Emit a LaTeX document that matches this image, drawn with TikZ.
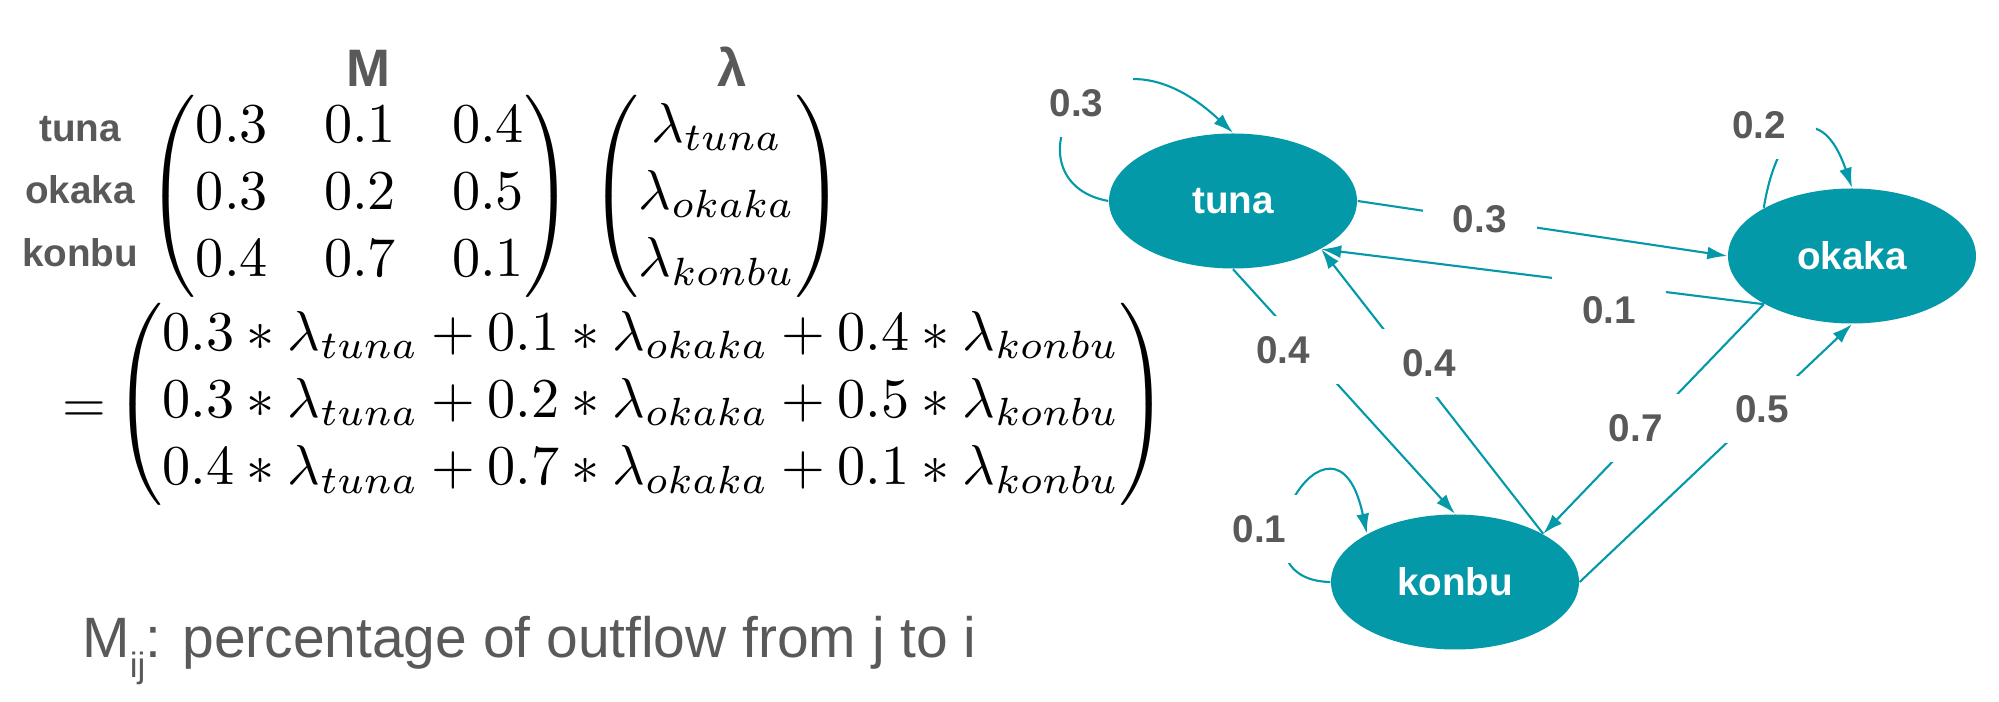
\documentclass[tikz,border=0pt]{standalone}
\usepackage{amsmath}
\usepackage[no-math]{fontspec}
\newfontfamily\hfont{Liberation Sans}
\usepackage{tikz}
\usetikzlibrary{arrows.meta, positioning, shapes.geometric}
\definecolor{tealfill}{HTML}{0499A8}
\definecolor{labgray}{HTML}{595959}

\begin{document}
\begin{tikzpicture}
		[   cnode/.style={ellipse,fill=tealfill,minimum width=2.48cm,minimum height=1.35cm,inner sep=0pt,text=white,font=\hfont\fontsize{11}{13}\selectfont\bfseries},
			wlabel/.style={fill=white,text=labgray,inner xsep=0.3cm,inner ysep=0.2cm,font=\hfont\fontsize{11}{13}\selectfont\bfseries},
			rowlab/.style={text=labgray,anchor=base,inner sep=1pt,font=\hfont\fontsize{11}{13}\selectfont\bfseries},
			headlab/.style={text=labgray,anchor=base,font=\hfont\fontsize{15}{18}\selectfont\bfseries},
			mbox/.style={scale=1.6,inner sep=0pt},
		]
		\tikzset{flow arrow/.style={draw=tealfill,line width=0.6pt,-{Latex[length=2mm,width=1.3mm]}}}
		\useasboundingbox (0,0) rectangle (19.99,-7.02);
		
		\node[headlab] (h-M) at (3.68,-0.87) {M};
		\node[headlab] (h-L) at (7.32,-0.87) {λ};
		
		\node[rowlab] (r-1) at (0.80,-1.42) {tuna};
		\node[rowlab] (r-2) at (0.80,-2.04) {okaka};
		\node[rowlab] (r-3) at (0.80,-2.67) {konbu};
		
		\node[mbox] (M) at (3.60,-1.96) {$\begin{pmatrix}0.3&0.1&0.4\\0.3&0.2&0.5\\0.4&0.7&0.1\end{pmatrix}$};
		\node[mbox] (L) at (7.17,-1.96) {$\begin{pmatrix}\lambda_{tuna}\\\lambda_{okaka}\\\lambda_{konbu}\end{pmatrix}$};
		
		\node[mbox] (eq) at (0.84,-4.12) {$=$};
		\node[mbox] (R) at (6.41,-4.04) {$\begin{pmatrix}0.3*\lambda_{tuna}+0.1*\lambda_{okaka}+0.4*\lambda_{konbu}\\0.3*\lambda_{tuna}+0.2*\lambda_{okaka}+0.5*\lambda_{konbu}\\0.4*\lambda_{tuna}+0.7*\lambda_{okaka}+0.1*\lambda_{konbu}\end{pmatrix}$};
		
		\node[anchor=base west,text=labgray,font=\hfont\fontsize{16.2}{19}\selectfont] (note) at (0.70,-6.58) {M\raisebox{-0.2cm}{\fontsize{10}{10}\selectfont ij}: percentage of outflow from j to i};
		
		\node[cnode] (tuna) at (12.33,-2.01) {tuna};
		\node[cnode] (okaka) at (18.52,-2.56) {okaka};
		\node[cnode] (konbu) at (14.55,-5.82) {konbu};
		
		\path[flow arrow] (tuna.east) -- node[wlabel,pos=0.33] {0.3} (okaka.west);
		\path[flow arrow] (okaka.south west) -- node[wlabel,pos=0.35,yshift=-0.25cm] {0.1} (tuna.south east);
		\path[flow arrow] (tuna.south) -- node[wlabel,pos=0.33,xshift=-0.23cm] {0.4} (konbu.north);
		\path[flow arrow] (konbu.north east) -- node[wlabel,pos=0.6,xshift=0.19cm] {0.4} (tuna.south east);
		\path[flow arrow] (okaka.south west) -- node[wlabel,pos=0.54,xshift=-0.09cm] {0.7} (konbu.north east);
		\path[flow arrow] (konbu.east) -- node[wlabel,pos=0.67] {0.5} (okaka.south);
		
		\path[flow arrow] (tuna.west) .. controls +(-1.09,0.2) and +(-1.42,1.33) .. node[wlabel,pos=0.5,yshift=0.06cm] {0.3} (tuna.north);
		\path[flow arrow] (okaka.north west) .. controls +(0.14,0.87) and +(-0.30,0.88) .. node[wlabel,pos=0.5,xshift=-0.43cm,yshift=0.07cm] {0.2} (okaka.north);
		\path[flow arrow] (konbu.west) .. controls +(-1.12,0.02) and +(-0.32,1.53) .. node[wlabel,pos=0.4,xshift=-0.26cm,yshift=-0.09cm] {0.1} (konbu.north west);
		
\end{tikzpicture}
\end{document}
